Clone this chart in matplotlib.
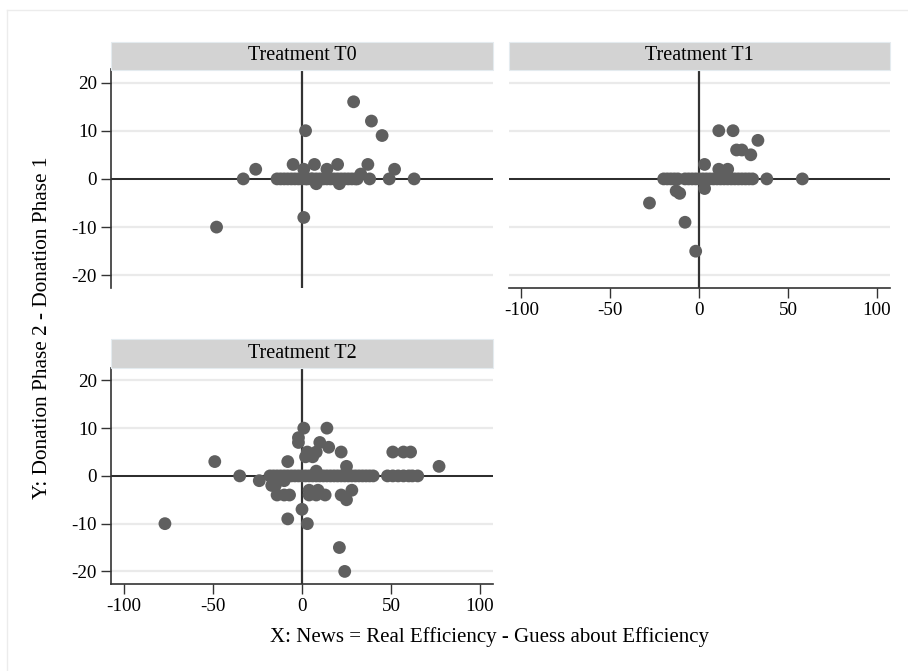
import matplotlib
matplotlib.use("Agg")
import matplotlib.pyplot as plt
from matplotlib.lines import Line2D
from matplotlib.patches import Rectangle

plt.rcParams['font.family'] = ['Liberation Serif', 'DejaVu Serif']
plt.rcParams['axes.unicode_minus'] = False

# ---- data ----
t0_x = [29, 39, 45, 2, -5, 7, 20, 37, 14, -26, 52, 1, 33,
        -33, 63, 49, 38,
        -14, -12, -10, -8, -6, -4, -2, 0, 2, 3, 5, 6, 8, 10, 12, 14, 16, 18,
        20, 22, 24, 26, 28, 30, 31,
        8, 21, -48, 1]
t0_y = [16, 12, 9, 10, 3, 3, 3, 3, 2, 2, 2, 2, 1,
        0, 0, 0, 0,
        0, 0, 0, 0, 0, 0, 0, 0, 0, 0, 0, 0, 0, 0, 0, 0, 0, 0,
        0, 0, 0, 0, 0, 0, 0,
        -1, -1, -10, -8]

t1_x = [11, 19, 33, 21, 24, 29, 3, 11, 16,
        38, 58,
        -20, -18, -16, -14, -12,
        -8, -6, -4, -2, 0, 2, 4, 6, 8, 10, 12, 14, 16, 18, 20, 22, 24, 26, 28, 30,
        -13, -11, 3, -28, -8, -2]
t1_y = [10, 10, 8, 6, 6, 5, 3, 2, 2,
        0, 0,
        0, 0, 0, 0, 0,
        0, 0, 0, 0, 0, 0, 0, 0, 0, 0, 0, 0, 0, 0, 0, 0, 0, 0, 0, 0,
        -2.5, -3, -2, -5, -9, -15]

t2_x = [1, 14, -2, -2, 10, 15, 3, 6, 8, 2, 22, 51, 57, 61, 77, 25, 8,
        -49, -8, -35, -24, -17,
        -18, -16, -14, -12, -10, -8, -6, -4, -2, 0, 2, 4, 6, 8, 10, 12, 14,
        16, 18, 20, 22, 24, 26, 28, 30, 32, 34, 36, 38, 40,
        48, 51, 54, 57, 60, 62, 65,
        -14, -10, -7, -15, -10, 4, 8, 13, 9, 4, 22, 28, 25,
        0, -8, 3, -77, 21, 24]
t2_y = [10, 10, 8, 7, 7, 6, 5, 4, 5, 4, 5, 5, 5, 5, 2, 2, 1,
        3, 3, 0, -1, -2,
        0, 0, 0, 0, 0, 0, 0, 0, 0, 0, 0, 0, 0, 0, 0, 0, 0,
        0, 0, 0, 0, 0, 0, 0, 0, 0, 0, 0, 0, 0,
        0, 0, 0, 0, 0, 0, 0,
        -4, -4, -4, -2, -1, -4, -4, -4, -3, -3, -4, -3, -5,
        -7, -9, -10, -10, -15, -20]

panel_titles = ["Treatment T0", "Treatment T1", "Treatment T2"]
x_ticks = [-100, -50, 0, 50, 100]
y_ticks = [-20, -10, 0, 10, 20]
x_label = "X: News = Real Efficiency - Guess about Efficiency"
y_label = "Y: Donation Phase 2 - Donation Phase 1"

W, H = 908, 671
fig = plt.figure(figsize=(W / 100, H / 100), dpi=100)

def fx(px):
    return px / W

def fy(py):
    return 1 - py / H

# panel geometry in pixels: (left, right, top_of_plot, bottom_of_plot, header_top)
geom = [
    (111, 493, 69.5, 288.3, 42),
    (508.5, 890, 69.5, 288.3, 42),
    (111, 493, 367.5, 584.3, 338.5),
]

data = [(t0_x, t0_y), (t1_x, t1_y), (t2_x, t2_y)]
show_left = [True, False, True]
show_bottom = [False, True, True]

pt_color = '#5f5f5f'
axis_line_color = '#1a1a1a'

for i, ((l, r, t, b, ht), (xs, ys)) in enumerate(zip(geom, data)):
    ax = fig.add_axes([fx(l), fy(b), fx(r) - fx(l), fy(t) - fy(b)])
    ax.set_xlim(-107.3, 107.3)
    ax.set_ylim(-22.7, 22.7)
    for yv in y_ticks:
        ax.axhline(yv, color='#eaeaea', lw=1.6, zorder=0)
    ax.axhline(0, color=axis_line_color, lw=1.3, zorder=1)
    ax.axvline(0, color='#333333', lw=1.6, zorder=1)
    ax.scatter(xs, ys, s=85, color=pt_color, edgecolors='none', zorder=3, clip_on=False)
    for side in ['top', 'right']:
        ax.spines[side].set_visible(False)
    ax.spines['left'].set_visible(show_left[i])
    ax.spines['bottom'].set_visible(show_bottom[i])
    for side in ['left', 'bottom']:
        ax.spines[side].set_color('#333333')
        ax.spines[side].set_linewidth(1.2)
    ax.set_yticks(y_ticks)
    ax.set_xticks(x_ticks)
    ax.tick_params(axis='both', direction='out', length=7, width=1.0, color='#333333',
                   labelsize=13.7, pad=3)
    if not show_left[i]:
        ax.tick_params(axis='y', left=False, labelleft=False)
    if not show_bottom[i]:
        ax.tick_params(axis='x', bottom=False, labelbottom=False)
    ax.set_facecolor('white')
    # header strip
    fig.patches.append(Rectangle((fx(l), fy(t)), fx(r) - fx(l), fy(ht) - fy(t),
                                 transform=fig.transFigure, facecolor='#d3d3d3',
                                 edgecolor='#e4ebef', lw=0.8, zorder=0))
    fig.text((fx(l) + fx(r)) / 2, (fy(t) + fy(ht)) / 2, panel_titles[i],
             ha='center', va='center', fontsize=14.5)

fig.text(fx(490), fy(637), x_label, ha='center', va='center', fontsize=15)
fig.text(fx(43), fy(328), y_label, ha='center', va='center', fontsize=15.3, rotation=90)

# faint outer frame
fig.lines.append(Line2D([fx(7), 1], [fy(10), fy(10)], transform=fig.transFigure,
                        color='#ececec', lw=1.0))
fig.lines.append(Line2D([fx(7), fx(7)], [fy(10), 0], transform=fig.transFigure,
                        color='#ececec', lw=1.0))

fig.savefig('out.png', dpi=100, facecolor='white')
